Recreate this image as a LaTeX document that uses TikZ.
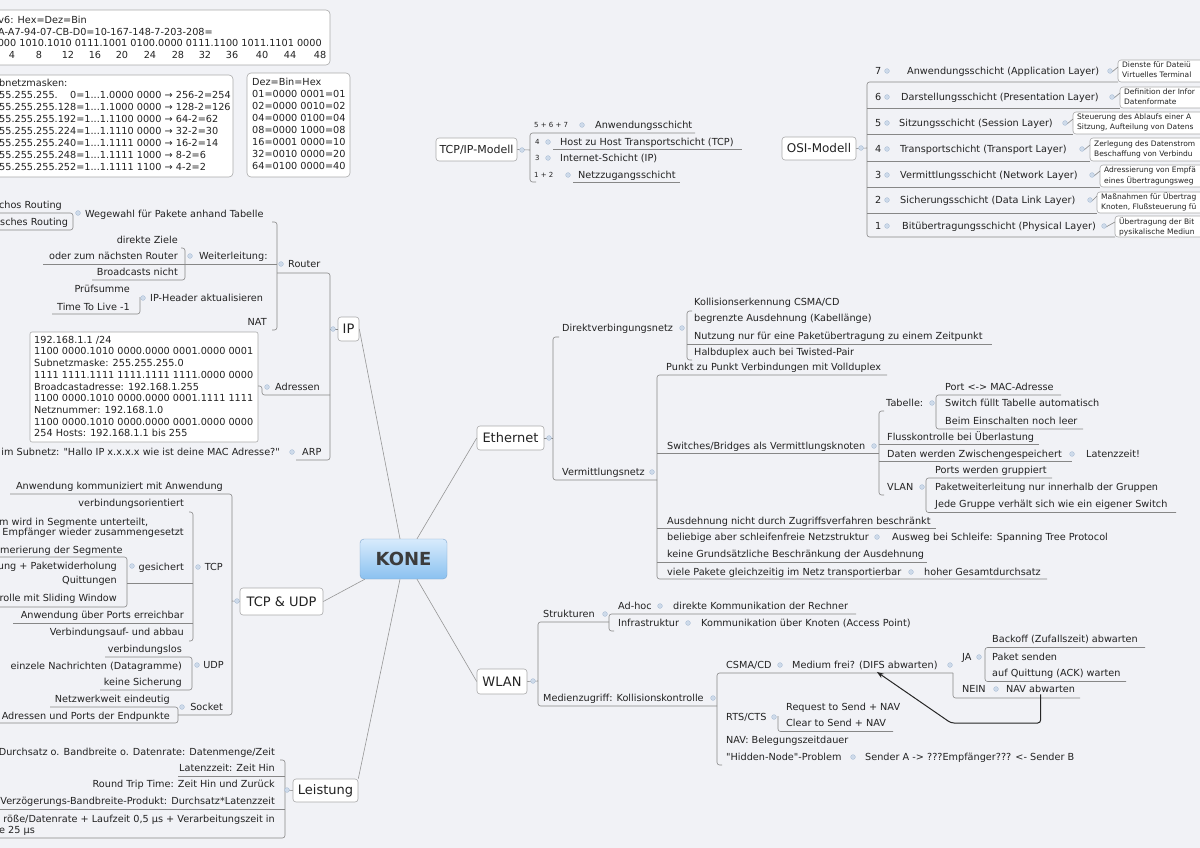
\documentclass[tikz,border=0pt]{standalone}
\usepackage{fontspec}
\setmainfont{DejaVu Sans}
\usetikzlibrary{arrows.meta}
\definecolor{bg}{RGB}{241,242,246}
\definecolor{txt}{RGB}{34,34,34}
\definecolor{lnc}{RGB}{135,135,135}
\definecolor{cnc}{RGB}{150,150,150}
\definecolor{boxc}{RGB}{170,170,170}
\definecolor{dotc}{RGB}{205,218,234}
\definecolor{dotb}{RGB}{165,185,210}
\definecolor{konetop}{RGB}{216,235,252}
\definecolor{konebot}{RGB}{138,193,240}
\definecolor{koneb}{RGB}{125,165,205}
\definecolor{konet}{RGB}{60,60,60}
\newcommand{\fs}{\fontsize{9.7}{11.7}\selectfont}
\newcommand{\fsm}{\fontsize{7.5}{9}\selectfont}
\newcommand{\fsn}{\fontsize{7}{8}\selectfont}
\newcommand{\dotat}[2]{\filldraw[fill=dotc,draw=dotb,line width=.3pt] (#1,#2) circle[radius=2.4pt];}
\tikzset{
  t/.style={font=\fs, text=txt, inner sep=0pt, text height=7.5pt, text depth=1pt},
  ts/.style={font=\fsm, text=txt, inner sep=0pt, text height=6pt, text depth=1pt, anchor=west},
  tn/.style={font=\fsn, text=txt, inner sep=0pt, text height=5.5pt, text depth=0.5pt, anchor=west},
  ln/.style={draw=lnc, line width=.6pt, rounded corners=2.5pt},
  conn/.style={draw=cnc, line width=.6pt},
  bx/.style={draw=boxc, fill=white, line width=.6pt, rounded corners=4pt},
  topic/.style={draw=boxc, fill=white, line width=.6pt, rounded corners=3pt, inner sep=0pt, text=txt, font=\fontsize{13}{15}\selectfont},
  arr/.style={draw=black!85, line width=1pt, rounded corners=3pt, -{Stealth[length=7pt,width=5pt]}},
}
\begin{document}
\begin{tikzpicture}[x=1pt,y=-1pt]
\useasboundingbox (0,0) rectangle (1200,848);
\fill[bg] (0,0) rectangle (1200,848);
\clip (0,0) rectangle (1200,848);

%================ top-left boxes
\draw[bx] (-10,10) rectangle (330,65);
\node[t,anchor=east] (a1) at (87,20) {v6: Hex=Dez=Bin};
\node[t,anchor=east] (a2) at (213,32) {A-A7-94-07-CB-D0=10-167-148-7-203-208=};
\node[t,anchor=east] (a3) at (322,43.5) {000 1010.1010 0111.1001 0100.0000 0111.1100 1011.1101 0000};
\foreach \n/\xx in {4/12,8/39,12/68,16/95,20/122,24/150,28/178,32/205,36/232,40/262,44/290,48/320}
  \node[t] (bit\n) at (\xx,55) {\n};

\draw[bx] (-10,75) rectangle (233,177);
\node[t,anchor=west] (b0) at (-1,83.5) {bnetzmasken:};
\node[t,anchor=west] (b1) at (-1,95.4) {55.255.255.\phantom{12}0=1...1.0000 0000 → 256-2=254};
\node[t,anchor=west] (b2) at (-1,107.3) {55.255.255.128=1...1.1000 0000 → 128-2=126};
\node[t,anchor=west] (b3) at (-1,119.2) {55.255.255.192=1...1.1100 0000 → 64-2=62};
\node[t,anchor=west] (b4) at (-1,131.1) {55.255.255.224=1...1.1110 0000 → 32-2=30};
\node[t,anchor=west] (b5) at (-1,143) {55.255.255.240=1...1.1111 0000 → 16-2=14};
\node[t,anchor=west] (b6) at (-1,154.9) {55.255.255.248=1...1.1111 1000 → 8-2=6};
\node[t,anchor=west] (b7) at (-1,166.8) {55.255.255.252=1...1.1111 1100 → 4-2=2};

\draw[bx] (247,73) rectangle (350,177);
\node[t,anchor=west] (c0) at (252,82.5) {Dez=Bin=Hex};
\node[t,anchor=west] (c1) at (252,94.4) {01=0000 0001=01};
\node[t,anchor=west] (c2) at (252,106.3) {02=0000 0010=02};
\node[t,anchor=west] (c3) at (252,118.2) {04=0000 0100=04};
\node[t,anchor=west] (c4) at (252,130.1) {08=0000 1000=08};
\node[t,anchor=west] (c5) at (252,142) {16=0001 0000=10};
\node[t,anchor=west] (c6) at (252,153.9) {32=0010 0000=20};
\node[t,anchor=west] (c7) at (252,165.8) {64=0100 0000=40};

%================ center
\node[draw=koneb, top color=konetop, bottom color=konebot, rounded corners=4pt,
  minimum width=87pt, minimum height=40pt, inner sep=0pt,
  font=\fontsize{18}{20}\selectfont\bfseries, text=konet] (kone) at (403.5,559) {KONE};

\node[topic, minimum width=21pt, minimum height=24pt] (ip) at (348.5,329) {IP};
\node[topic, minimum width=67pt, minimum height=24pt] (ethernet) at (510.5,438) {Ethernet};
\node[topic, minimum width=50pt, minimum height=25pt] (wlan) at (502,681.5) {WLAN};
\node[topic, minimum width=83pt, minimum height=27pt] (tcpudp) at (281.5,601.5) {TCP \& UDP};
\node[topic, minimum width=65pt, minimum height=23pt] (leistung) at (325.5,790.5) {Leistung};
\node[topic, minimum width=81pt, minimum height=23pt, font=\fontsize{11}{13}\selectfont] (tcpip) at (476.5,149.5) {TCP/IP-Modell};
\node[topic, minimum width=74pt, minimum height=23pt, font=\fontsize{12}{14}\selectfont] (osi) at (819,148.5) {OSI-Modell};

\draw[conn] ([xshift=-3.5pt]kone.north) -- (ip.east);
\draw[conn] ([xshift=13.5pt]kone.north) -- (ethernet.west);
\draw[conn] ([xshift=13.5pt]kone.south) -- (wlan.west);
\draw[conn] ([xshift=5pt]kone.south west) -- (tcpudp.east);
\draw[conn] ([xshift=-3.5pt]kone.south) -- (leistung.north east);

%================ IP
\node[t,anchor=east] (chos) at (62,205) {chos Routing};
\node[t,anchor=west] (sches) at (0,222) {sches Routing};
\node[t,anchor=west] (wegewahl) at (85,214) {Wegewahl für Pakete anhand Tabelle};
\node[t,anchor=east] (ziele) at (178,240) {direkte Ziele};
\node[t,anchor=east] (naechst) at (178,256) {oder zum nächsten Router};
\node[t,anchor=east] (broad) at (178,272) {Broadcasts nicht};
\node[t,anchor=west] (weiter) at (199,256) {Weiterleitung:};
\node[t,anchor=east] (pruef) at (130,289) {Prüfsumme};
\node[t,anchor=east] (ttl) at (130,307) {Time To Live -1};
\node[t,anchor=west] (iphead) at (150,298) {IP-Header aktualisieren};
\node[t,anchor=east] (nat) at (267,322) {NAT};
\node[t,anchor=west] (router) at (288,264) {Router};

\draw[ln] (-2,213) -- (73,213) -- (73,230) -- (-2,230);
\draw[ln] (43,264) -- (277,264);
\draw[ln] (181,248) -- (185,248) -- (185,280) -- (92,280);
\draw[ln] (140,297) -- (140,314) -- (52,314);
\draw[ln] (272,222) -- (277,222) -- (277,330) -- (272,330);
\draw[ln] (277,273) -- (330,273) -- (330,460) -- (296,460);
\draw[ln] (ip.west) -- (330,329);

\draw[draw=boxc, fill=white, line width=.6pt, rounded corners=2pt] (30,332) rectangle (258,442);
\node[t,anchor=west] (ad1) at (34,340) {192.168.1.1 /24};
\node[t,anchor=west] (ad2) at (34,351.7) {1100 0000.1010 0000.0000 0001.0000 0001};
\node[t,anchor=west] (ad3) at (34,363.4) {Subnetzmaske: 255.255.255.0};
\node[t,anchor=west] (ad4) at (34,375.1) {1111 1111.1111 1111.1111 1111.0000 0000};
\node[t,anchor=west] (ad5) at (34,386.8) {Broadcastadresse: 192.168.1.255};
\node[t,anchor=west] (ad6) at (34,398.5) {1100 0000.1010 0000.0000 0001.1111 1111};
\node[t,anchor=west] (ad7) at (34,410.2) {Netznummer: 192.168.1.0};
\node[t,anchor=west] (ad8) at (34,421.9) {1100 0000.1010 0000.0000 0001.0000 0000};
\node[t,anchor=west] (ad9) at (34,433.6) {254 Hosts: 192.168.1.1 bis 255};
\node[t,anchor=west] (adressen) at (275,387) {Adressen};
\draw[ln] (258,386) -- (262,386) -- (262,395) -- (330,395);

\node[t,anchor=east] (arptxt) at (280,452) {im Subnetz: \textquotedbl Hallo IP x.x.x.x wie ist deine MAC Adresse?\textquotedbl};
\node[t,anchor=west] (arp) at (302,452) {ARP};

\dotat{78}{213} \dotat{190}{256} \dotat{143}{298} \dotat{281}{264}
\dotat{333}{329} \dotat{267}{387} \dotat{292}{452}

%================ TCP & UDP
\node[t,anchor=east] (anwkomm) at (223,486) {Anwendung kommuniziert mit Anwendung};
\node[t,anchor=east] (vbo) at (184,503) {verbindungsorientiert};
\node[t,anchor=west] (segm1) at (-1,522) {m wird in Segmente unterteilt,};
\node[t,anchor=east] (segm2) at (184,532) {Empfänger wieder zusammengesetzt};
\node[t,anchor=west] (numm) at (0,550) {merierung der Segmente};
\node[t,anchor=east] (pwh) at (117,566) {ung + Paketwiderholung};
\node[t,anchor=east] (quitt) at (117,580) {Quittungen};
\node[t,anchor=east] (slid) at (117,598) {rolle mit Sliding Window};
\node[t,anchor=east] (gesich) at (184,567) {gesichert};
\node[t,anchor=east] (ports) at (184,615) {Anwendung über Ports erreichbar};
\node[t,anchor=east] (vauf) at (184,632) {Verbindungsauf- und abbau};
\node[t,anchor=east] (tcp) at (223,567) {TCP};
\node[t,anchor=east] (udp) at (224,665) {UDP};
\node[t,anchor=east] (vlos) at (182,649) {verbindungslos};
\node[t,anchor=east] (dgram) at (182,666) {einzele Nachrichten (Datagramme)};
\node[t,anchor=east] (keinesich) at (182,682) {keine Sicherung};
\node[t,anchor=east] (socket) at (223,707) {Socket};
\node[t,anchor=east] (nwe) at (170,699) {Netzwerkweit eindeutig};
\node[t,anchor=east] (adp) at (170,716) {Adressen und Ports der Endpunkte};

\draw[ln] (10,494) -- (232,494) -- (232,715) -- (178,715);
\draw[ln] (tcpudp.west) -- (232,601);
\draw[ln] (189,512) -- (193,512) -- (193,641) -- (189,641);
\draw[ln] (-2,557) -- (127,557) -- (127,607) -- (-2,607);
\draw[ln] (127,583) -- (193,583);
\draw[ln] (13,623) -- (193,623);
\draw[ln] (105,657) -- (192,657) -- (192,690) -- (100,690);
\draw[ln] (50,707) -- (178,707) -- (178,723) -- (-2,723);

\dotat{237}{601} \dotat{198}{567} \dotat{132}{566} \dotat{197}{665} \dotat{182}{707}

%================ Leistung
\node[t,anchor=east] (durchsatz) at (275,752) {Durchsatz o. Bandbreite o. Datenrate: Datenmenge/Zeit};
\node[t,anchor=east] (latenz) at (275,768) {Latenzzeit: Zeit Hin};
\node[t,anchor=east] (rtt) at (275,784) {Round Trip Time: Zeit Hin und Zurück};
\node[t,anchor=east] (vbp) at (275,801) {Verzögerungs-Bandbreite-Produkt: Durchsatz*Latenzzeit};
\node[t,anchor=east] (groesse1) at (275,819) {röße/Datenrate + Laufzeit 0,5 µs + Verarbeitungszeit in};
\node[t,anchor=west] (groesse2) at (-1,830) {e 25 µs};
\draw[ln] (280,760) -- (285,760) -- (285,838) -- (-2,838);
\draw[ln] (178,776) -- (285,776);
\draw[ln] (-2,809) -- (285,809);
\draw[ln] (leistung.west) -- (285,790);
\dotat{287}{790}

%================ TCP/IP-Modell
\node[tn] (n567) at (534,125) {5 + 6 + 7};
\node[t,anchor=west] (anwsch) at (595,125) {Anwendungsschicht};
\node[tn] (n4) at (535,142) {4};
\node[t,anchor=west] (hosthost) at (560,142) {Host zu Host Transportschicht (TCP)};
\node[tn] (n3) at (535,158) {3};
\node[t,anchor=west] (internet) at (560,158) {Internet-Schicht (IP)};
\node[tn] (n12) at (534,175) {1 + 2};
\node[t,anchor=west] (netzzug) at (578,175) {Netzzugangsschicht};
\draw[ln] (695,133) -- (530,133) -- (530,182) -- (536,182);
\draw[ln] (553,149.5) -- (742,149.5);
\draw[ln] (573,182) -- (680,182);
\draw[ln] (tcpip.east) -- (530,150);
\dotat{522}{150} \dotat{582}{125} \dotat{548}{142} \dotat{548}{158} \dotat{568}{175}

%================ OSI-Modell
\draw[ln] (1118,82) -- (867,82) -- (867,237) -- (1115,237);
\draw[ln] (osi.east) -- (867,148);
\foreach \yy/\bxl in {108/1120,134/1073,161/1090,187/1100,213/1097}
  \draw[ln] (867,\yy) -- (\bxl,\yy);
\draw[bx,rounded corners=3pt] (1118,60) rectangle (1215,82);
\draw[bx,rounded corners=3pt] (1120,87) rectangle (1215,108);
\draw[bx,rounded corners=3pt] (1073,112) rectangle (1215,134);
\draw[bx,rounded corners=3pt] (1090,138) rectangle (1215,161);
\draw[bx,rounded corners=3pt] (1100,165) rectangle (1215,187);
\draw[bx,rounded corners=3pt] (1097,192) rectangle (1215,213);
\draw[bx,rounded corners=3pt] (1115,216) rectangle (1215,237);
\foreach \dx/\yy/\bxl in {1110/71/1118,1112/97/1120,1065/123/1073,1082/149/1090,1092/175/1100,1090/200/1097,1104/226/1115}
  \draw[ln,rounded corners=0pt] (\dx+2,\yy+1) -- (\bxl,\yy-4);
\node[t,anchor=west] (o7n) at (875,71) {7};
\node[t,anchor=west] (o7) at (907,71) {Anwendungsschicht (Application Layer)};
\node[t,anchor=west] (o6n) at (875,97) {6};
\node[t,anchor=west] (o6) at (901,97) {Darstellungsschicht (Presentation Layer)};
\node[t,anchor=west] (o5n) at (875,123) {5};
\node[t,anchor=west] (o5) at (899,123) {Sitzungsschicht (Session Layer)};
\node[t,anchor=west] (o4n) at (875,149) {4};
\node[t,anchor=west] (o4) at (900,149) {Transportschicht (Transport Layer)};
\node[t,anchor=west] (o3n) at (875,175) {3};
\node[t,anchor=west] (o3) at (900,175) {Vermittlungsschicht (Network Layer)};
\node[t,anchor=west] (o2n) at (875,200) {2};
\node[t,anchor=west] (o2) at (900,200) {Sicherungsschicht (Data Link Layer)};
\node[t,anchor=west] (o1n) at (875,226) {1};
\node[t,anchor=west] (o1) at (902,226) {Bitübertragungsschicht (Physical Layer)};
\node[ts] (o7a) at (1122,65.5) {Dienste für Dateiü};
\node[ts] (o7b) at (1122,75.5) {Virtuelles Terminal};
\node[ts] (o6a) at (1124,92.5) {Definition der Infor};
\node[ts] (o6b) at (1124,102.5) {Datenformate};
\node[ts] (o5a) at (1077,117.5) {Steuerung des Ablaufs einer A};
\node[ts] (o5b) at (1077,127.5) {Sitzung, Aufteilung von Datens};
\node[ts] (o4a) at (1094,144) {Zerlegung des Datenstrom};
\node[ts] (o4b) at (1094,154) {Beschaffung von Verbindu};
\node[ts] (o3a) at (1104,170.5) {Adressierung von Empfä};
\node[ts] (o3b) at (1104,180.5) {eines Übertragungsweg};
\node[ts] (o2a) at (1101,197) {Maßnahmen für Übertrag};
\node[ts] (o2b) at (1101,207) {Knoten, Flußsteuerung fü};
\node[ts] (o1a) at (1119,221.5) {Übertragung der Bit};
\node[ts] (o1b) at (1119,231.5) {pysikalische Mediun};
\dotat{861}{148}
\foreach \yy in {71,97,123,149,175,200,226} {\dotat{887}{\yy}}
\dotat{1110}{71} \dotat{1112}{97} \dotat{1065}{123} \dotat{1082}{149}
\dotat{1092}{175} \dotat{1090}{200} \dotat{1104}{226}

%================ Ethernet
\node[t,anchor=west] (direkt) at (562,328) {Direktverbingungsnetz};
\node[t,anchor=west] (koll) at (694,302) {Kollisionserkennung CSMA/CD};
\node[t,anchor=west] (begr) at (694,318) {begrenzte Ausdehnung (Kabellänge)};
\node[t,anchor=west] (nutz) at (694,336) {Nutzung nur für eine Paketübertragung zu einem Zeitpunkt};
\node[t,anchor=west] (halb) at (694,352) {Halbduplex auch bei Twisted-Pair};
\node[t,anchor=west] (punkt) at (666,367) {Punkt zu Punkt Verbindungen mit Vollduplex};
\node[t,anchor=west] (vermnetz) at (562,472) {Vermittlungsnetz};
\node[t,anchor=west] (switches) at (667,446) {Switches/Bridges als Vermittlungsknoten};
\node[t,anchor=west] (tabelle) at (886,403) {Tabelle:};
\node[t,anchor=west] (portmac) at (945,387) {Port <-> MAC-Adresse};
\node[t,anchor=west] (fuellt) at (945,403) {Switch füllt Tabelle automatisch};
\node[t,anchor=west] (einsch) at (945,421) {Beim Einschalten noch leer};
\node[t,anchor=west] (fluss) at (887,437) {Flusskontrolle bei Überlastung};
\node[t,anchor=west] (zwischen) at (887,454) {Daten werden Zwischengespeichert};
\node[t,anchor=west] (latenzz) at (1086,454) {Latenzzeit!};
\node[t,anchor=west] (vlan) at (887,487) {VLAN};
\node[t,anchor=west] (gruppiert) at (935,470) {Ports werden gruppiert};
\node[t,anchor=west] (innerhalb) at (935,487) {Paketweiterleitung nur innerhalb der Gruppen};
\node[t,anchor=west] (jede) at (935,504) {Jede Gruppe verhält sich wie ein eigener Switch};
\node[t,anchor=west] (ausdn) at (667,521) {Ausdehnung nicht durch Zugriffsverfahren beschränkt};
\node[t,anchor=west] (belieb) at (667,537) {beliebige aber schleifenfreie Netzstruktur};
\node[t,anchor=west] (stp) at (892,537) {Ausweg bei Schleife: Spanning Tree Protocol};
\node[t,anchor=west] (keinegr) at (667,554) {keine Grundsätzliche Beschränkung der Ausdehnung};
\node[t,anchor=west] (viele) at (667,572) {viele Pakete gleichzeitig im Netz transportierbar};
\node[t,anchor=west] (hoher) at (924,572) {hoher Gesamtdurchsatz};

\draw[ln] (ethernet.east) -- (553,438);
\draw[ln] (559,337) -- (553,337) -- (553,480) -- (657,480);
\draw[ln] (692,311) -- (687,311) -- (687,360) -- (692,360);
\draw[ln] (687,344.5) -- (992,344.5);
\draw[ln] (887,375) -- (657,375) -- (657,579) -- (1047,579);
\draw[ln] (657,453.5) -- (879,453.5);
\draw[ln] (657,528.5) -- (936,528.5);
\draw[ln] (657,562) -- (927,562);
\draw[ln] (884,411) -- (879,411) -- (879,495) -- (884,495);
\draw[ln] (879,444.5) -- (1039,444.5);
\draw[ln] (879,461.5) -- (1072,461.5);
\draw[ln] (1061,395) -- (936,395) -- (936,429) -- (1083,429);
\draw[ln] (1052,478) -- (926,478) -- (926,512.5) -- (1176,512.5);
\dotat{549}{438} \dotat{682}{328} \dotat{652}{472} \dotat{874}{446}
\dotat{932}{403} \dotat{1072}{454} \dotat{922}{487} \dotat{877}{537} \dotat{911}{572}

%================ WLAN
\node[t,anchor=west] (strukt) at (543,614) {Strukturen};
\node[t,anchor=west] (adhoc) at (618,606) {Ad-hoc};
\node[t,anchor=west] (direktk) at (673,606) {direkte Kommunikation der Rechner};
\node[t,anchor=west] (infra) at (618,623) {Infrastruktur};
\node[t,anchor=west] (ap) at (701,623) {Kommunikation über Knoten (Access Point)};
\node[t,anchor=west] (medzug) at (543,698) {Medienzugriff: Kollisionskontrolle};
\node[t,anchor=west] (csma) at (726,665) {CSMA/CD};
\node[t,anchor=west] (medium) at (792,665) {Medium frei? (DIFS abwarten)};
\node[t,anchor=west] (ja) at (962,657) {JA};
\node[t,anchor=west] (backoff) at (992,639) {Backoff (Zufallszeit) abwarten};
\node[t,anchor=west] (paket) at (992,657) {Paket senden};
\node[t,anchor=west] (ack) at (992,673) {auf Quittung (ACK) warten};
\node[t,anchor=west] (nein) at (962,689) {NEIN};
\node[t,anchor=west] (nav) at (1006,689) {NAV abwarten};
\node[t,anchor=west] (rts) at (726,717) {RTS/CTS};
\node[t,anchor=west] (request) at (786,707) {Request to Send + NAV};
\node[t,anchor=west] (clear) at (786,723) {Clear to Send + NAV};
\node[t,anchor=west] (navbel) at (726,740) {NAV: Belegungszeitdauer};
\node[t,anchor=west] (hidden) at (726,757) {\textquotedbl Hidden-Node\textquotedbl-Problem};
\node[t,anchor=west] (sendera) at (865,757) {Sender A -> ???Empfänger??? <- Sender B};

\draw[ln] (wlan.east) -- (538,681);
\draw[ln] (609,622) -- (538,622) -- (538,706) -- (717,706);
\draw[ln] (856,614) -- (609,614) -- (609,631) -- (614,631);
\draw[ln] (953,673) -- (717,673) -- (717,765) -- (722,765);
\draw[ln] (953,673) -- (953,698) -- (1080,698);
\draw[ln] (1145,647.5) -- (985,647.5) -- (985,681.5) -- (1126,681.5);
\draw[ln] (778,716) -- (778,731.5) -- (893,731.5);
\coordinate (abend) at (951,723);
\draw[arr] ([yshift=-1pt]nav.south) |- (abend) -- ([xshift=12pt,yshift=-2.5pt]medium.south);
\dotat{533}{681} \dotat{605}{614} \dotat{660}{606} \dotat{688}{623} \dotat{713}{698}
\dotat{780}{665} \dotat{950}{665} \dotat{979}{657} \dotat{996}{689} \dotat{774}{717} \dotat{853}{757}
\end{tikzpicture}
\end{document}
